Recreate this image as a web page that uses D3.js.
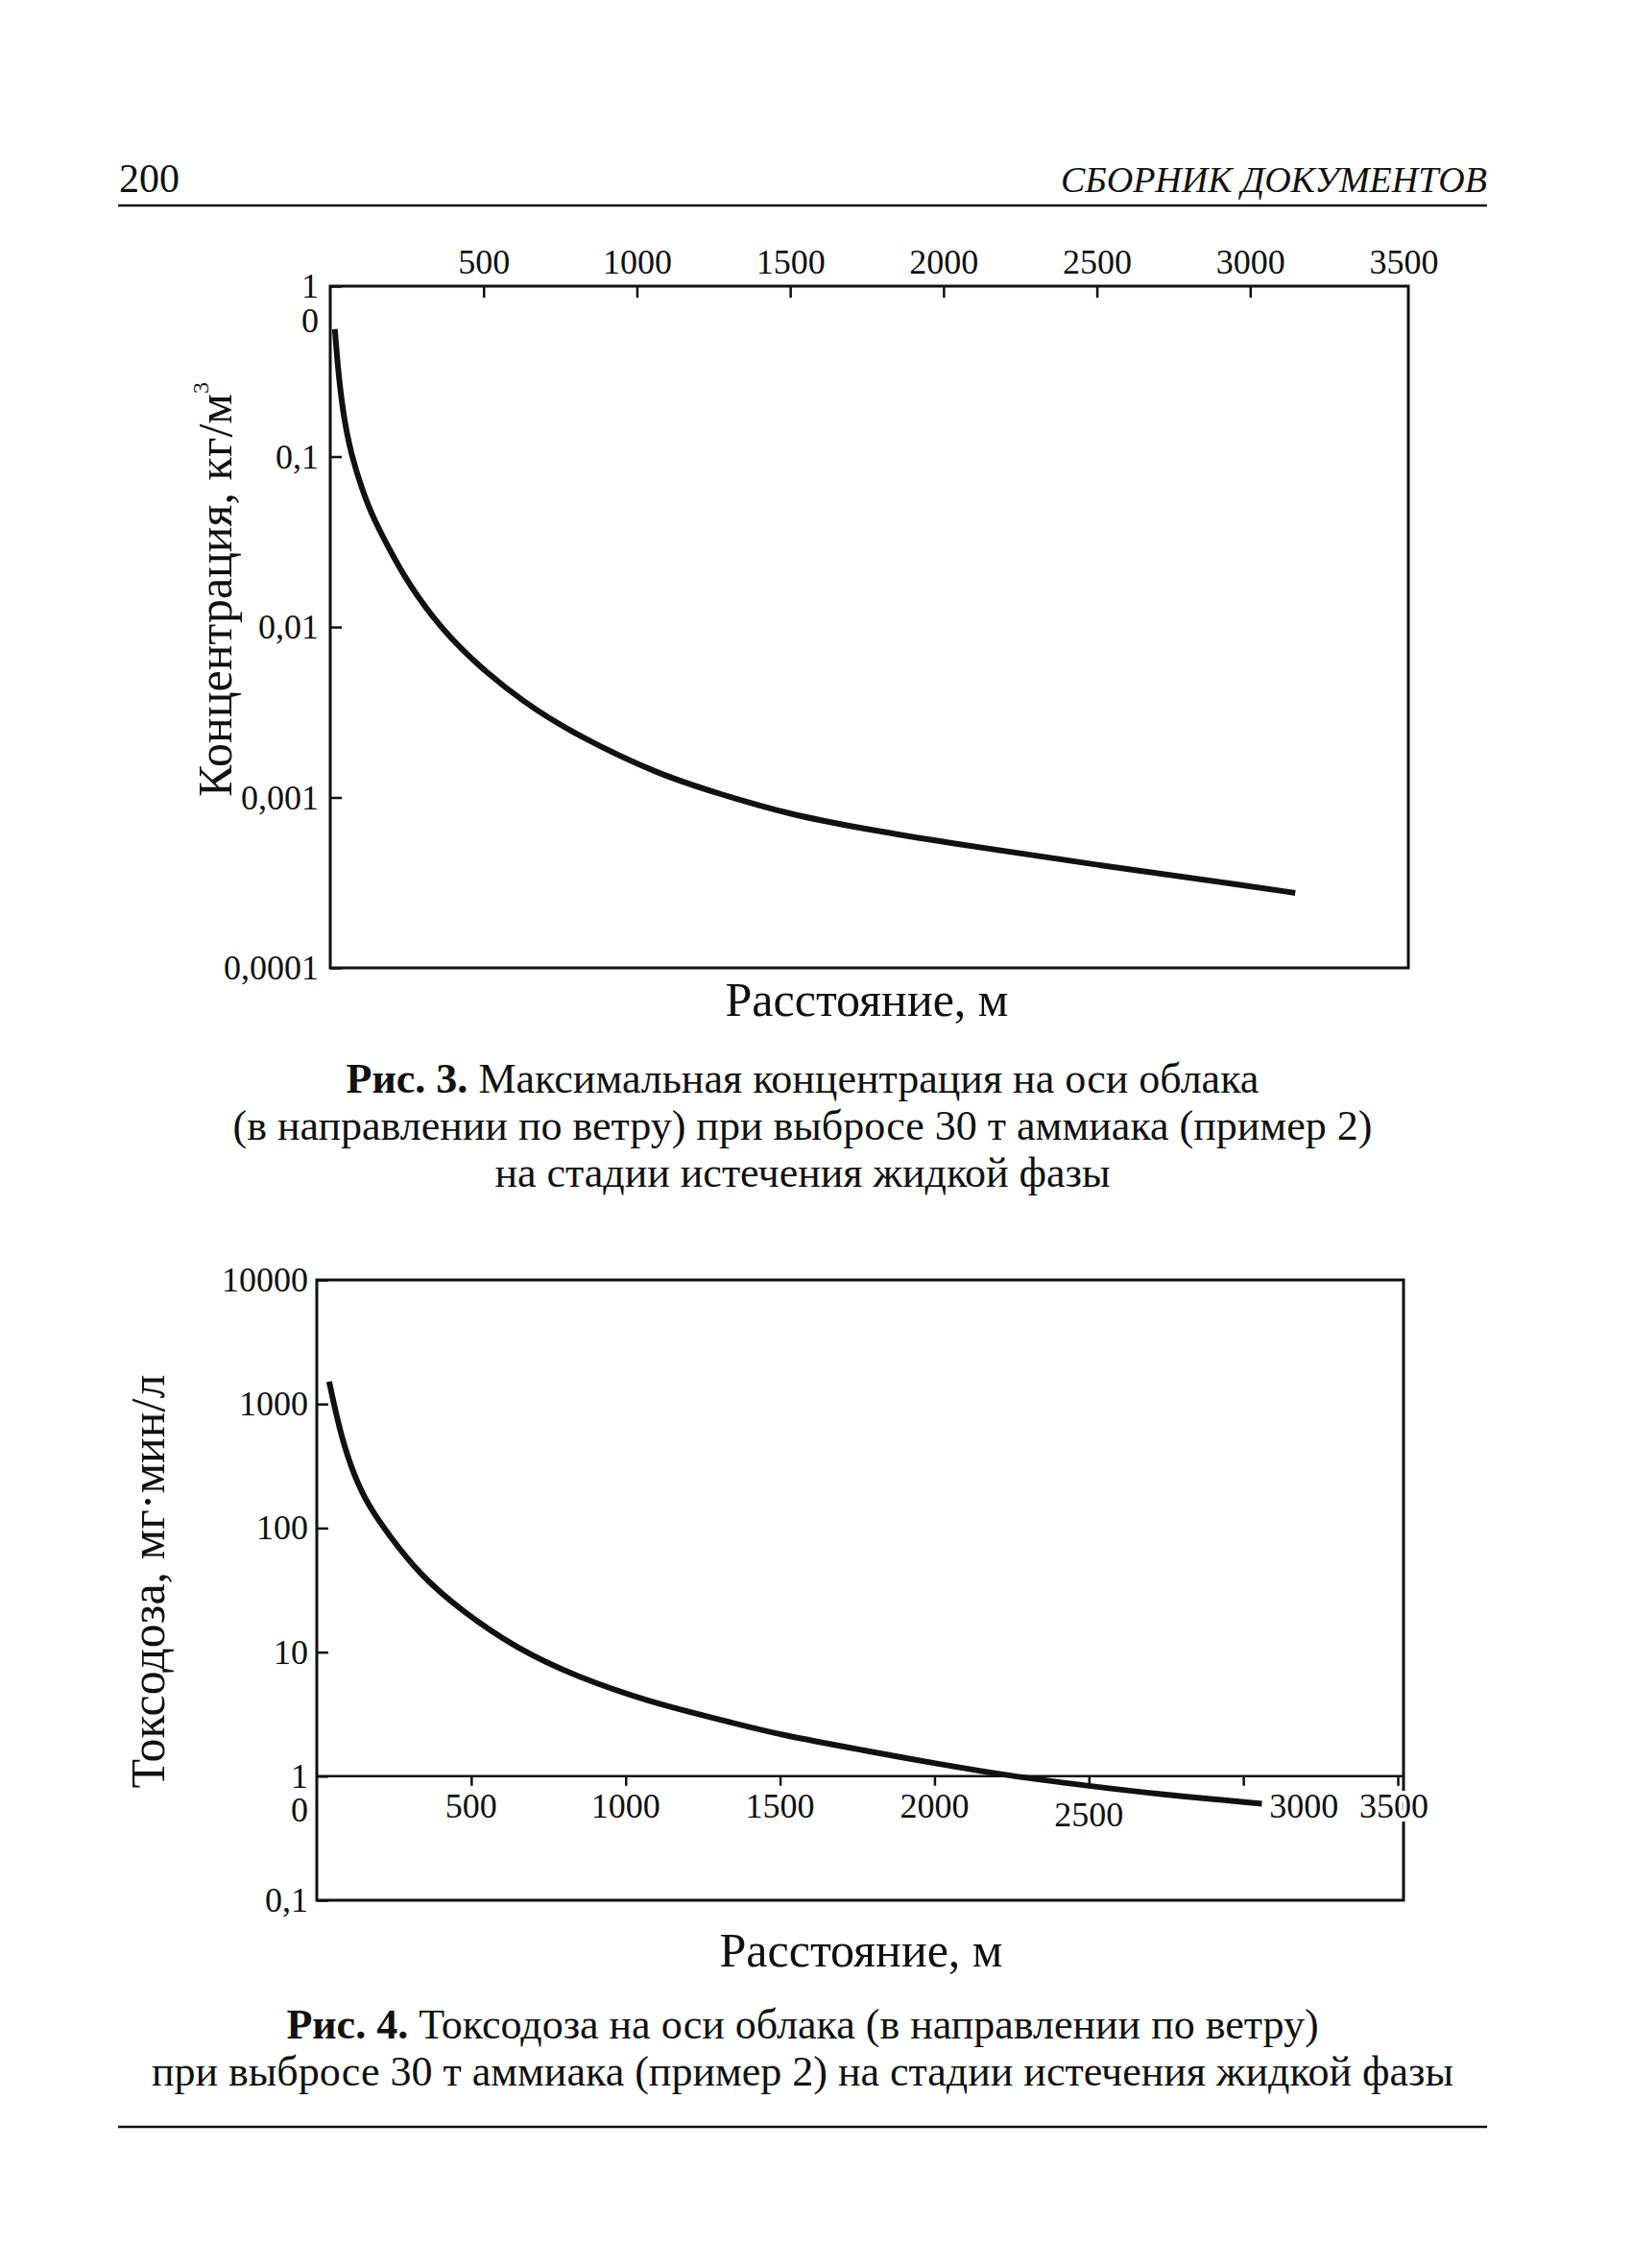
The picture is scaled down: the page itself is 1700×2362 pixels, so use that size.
<!DOCTYPE html>
<html><head><meta charset="utf-8">
<script src="https://cdn.jsdelivr.net/npm/d3@7"></script>
<style>
body{margin:0;background:#fff}
svg{display:block;background:#fff}
text{font-family:"Liberation Serif","Times New Roman",serif;fill:#111}
</style>
</head><body>
<svg id="c" width="1700" height="2362"></svg>
<script>
// ---------- data ----------
const xTicks = [500, 1000, 1500, 2000, 2500, 3000, 3500];

// Fig. 3: concentration, kg/m3 (log axis)
const concTicks = [1, 0.1, 0.01, 0.001, 0.0001];
const concLabels = ["1", "0,1", "0,01", "0,001", "0,0001"];
const dist1 = [15, 25, 40, 65, 124, 171, 235, 333, 456, 630, 806, 1076, 1277, 1490, 1748, 2006, 2507, 3010, 3147];
const conc1 = [0.56, 0.33, 0.19, 0.105, 0.05, 0.034, 0.0205, 0.0113, 0.0065, 0.0036, 0.0023, 0.00135, 0.00104, 0.0008, 0.00065, 0.000545, 0.0004, 0.0003, 0.000275];

// Fig. 4: toxic dose, mg·min/l (log axis)
const doseTicks = [10000, 1000, 100, 10, 1, 0.1];
const doseLabels = ["10000", "1000", "100", "10", "1", "0,1"];
const dist2 = [40, 60, 87, 120, 166, 236, 330, 470, 650, 840, 1078, 1312, 1500, 1780, 1990, 2250, 2490, 2714, 3060];
const dose2 = [1515, 886, 472, 270, 152, 86, 43, 21.3, 10.6, 6.35, 3.96, 2.83, 2.15, 1.6, 1.28, 1.0, 0.84, 0.72, 0.6];

const headerLeft = "200";
const headerRight = "СБОРНИК ДОКУМЕНТОВ";
const xTitle = "Расстояние, м";
const yTitle1 = "Концентрация, кг/м";
const yTitle2 = "Токсодоза, мг·мин/л";
const caption3 = [["Рис. 3.", " Максимальная концентрация на оси облака"],
                  ["", "(в направлении по ветру) при выбросе 30 т аммиака (пример 2)"],
                  ["", "на стадии истечения жидкой фазы"]];
const caption4 = [["Рис. 4.", " Токсодоза на оси облака (в направлении по ветру)"],
                  ["", "при выбросе 30 т аммиака (пример 2) на стадии истечения жидкой фазы"]];

// ---------- drawing ----------
const svg = d3.select("#c");
const FONT = "Liberation Serif, Times New Roman, serif";
const INK = "#111";

// page header
svg.append("text").attr("x", 124).attr("y", 200).attr("font-size", 42).text(headerLeft);
svg.append("text").attr("x", 1549).attr("y", 200).attr("font-size", 38)
  .attr("font-style", "italic").attr("text-anchor", "end").text(headerRight);
svg.append("line").attr("x1", 123).attr("x2", 1549).attr("y1", 214).attr("y2", 214)
  .attr("stroke", INK).attr("stroke-width", 2.5);

function styleAxis(g, size) {
  g.attr("font-family", FONT).attr("font-size", size);
  g.select(".domain").remove();
  g.selectAll(".tick line").attr("stroke", INK).attr("stroke-width", 2.5);
  g.selectAll(".tick text").attr("fill", INK);
}

function caption(lines, cx, y0, dy) {
  lines.forEach((ln, i) => {
    const t = svg.append("text").attr("x", cx).attr("y", y0 + i * dy)
      .attr("text-anchor", "middle").attr("font-size", 44);
    if (ln[0]) t.append("tspan").attr("font-weight", "bold").text(ln[0]);
    t.append("tspan").text(ln[1]);
  });
}

const curve = d3.curveBasis;

// ===== Figure 3 =====
const x1 = d3.scaleLinear().domain([0, 3500]).range([344, 1462]);
const y1 = d3.scaleLog().domain([1e-4, 1]).range([1008, 298]);

svg.append("rect").attr("x", 344).attr("y", 298).attr("width", 1123).attr("height", 710)
  .attr("fill", "none").attr("stroke", INK).attr("stroke-width", 3);

const top1 = svg.append("g").attr("transform", "translate(0,298)")
  .call(d3.axisTop(x1).tickValues(xTicks).tickSizeInner(-12).tickSizeOuter(0)
    .tickPadding(13).tickFormat(d3.format("d")));
styleAxis(top1, 36);
top1.selectAll(".tick").filter(d => d === 3500).select("line").remove();

const left1 = svg.append("g").attr("transform", "translate(344,0)")
  .call(d3.axisLeft(y1).tickValues(concTicks).tickSizeInner(-12).tickSizeOuter(0)
    .tickPadding(12).tickFormat((d, i) => concLabels[i]));
styleAxis(left1, 36);
svg.append("text").attr("x", 332).attr("y", y1(1) + 36).attr("dy", "0.32em")
  .attr("text-anchor", "end").attr("font-size", 36).text("0");

const yt1 = svg.append("text").attr("transform", "translate(241,614) rotate(-90)")
  .attr("text-anchor", "middle").attr("font-size", 50);
yt1.append("tspan").text(yTitle1);
yt1.append("tspan").attr("font-size", 24).attr("dy", -24).text("3");

const line1 = d3.line().x(d => x1(d[0])).y(d => y1(d[1])).curve(curve);
svg.append("path").datum(dist1.map((d, i) => [d, conc1[i]]))
  .attr("d", line1).attr("fill", "none").attr("stroke", INK).attr("stroke-width", 6);

svg.append("text").attr("x", 903).attr("y", 1058).attr("text-anchor", "middle")
  .attr("font-size", 50).text(xTitle);
caption(caption3, 836, 1138, 49);

// ===== Figure 4 =====
const x2 = d3.scaleLinear().domain([0, 3500]).range([330, 1456]);
const y2 = d3.scaleLog().domain([0.1, 10000]).range([1979, 1333]);

svg.append("rect").attr("x", 330).attr("y", 1333).attr("width", 1132).attr("height", 646)
  .attr("fill", "none").attr("stroke", INK).attr("stroke-width", 3);

const left2 = svg.append("g").attr("transform", "translate(330,0)")
  .call(d3.axisLeft(y2).tickValues(doseTicks).tickSizeInner(-12).tickSizeOuter(0)
    .tickPadding(9).tickFormat((d, i) => doseLabels[i]));
styleAxis(left2, 36);
svg.append("text").attr("x", 321).attr("y", y2(1) + 36).attr("dy", "0.32em")
  .attr("text-anchor", "end").attr("font-size", 36).text("0");

// horizontal axis drawn at value 1
svg.append("line").attr("x1", 330).attr("x2", 1462).attr("y1", y2(1)).attr("y2", y2(1))
  .attr("stroke", INK).attr("stroke-width", 2.5);
const mid2 = svg.append("g").attr("transform", `translate(0,${y2(1)})`)
  .call(d3.axisBottom(x2).tickValues(xTicks).tickSizeInner(10).tickSizeOuter(0).tickFormat(""));
styleAxis(mid2, 36);

const line2 = d3.line().x(d => x2(d[0])).y(d => y2(d[1])).curve(curve);
svg.append("path").datum(dist2.map((d, i) => [d, dose2[i]]))
  .attr("d", line2).attr("fill", "none").attr("stroke", INK).attr("stroke-width", 6);

const labShift = {2500: [0, 9], 3000: [63, 0], 3500: [-4, 0]};
svg.append("g").selectAll("text").data(xTicks).join("text")
  .attr("x", d => x2(d) + (labShift[d] ? labShift[d][0] : 0))
  .attr("y", d => y2(1) + 43 + (labShift[d] ? labShift[d][1] : 0))
  .attr("text-anchor", "middle").attr("font-size", 36)
  .attr("stroke", d => d === 3500 ? "#fff" : "none").attr("stroke-width", 8)
  .attr("paint-order", "stroke")
  .text(d => d);

svg.append("text").attr("transform", "translate(171,1647) rotate(-90)")
  .attr("text-anchor", "middle").attr("font-size", 50).text(yTitle2);

svg.append("text").attr("x", 897).attr("y", 2048).attr("text-anchor", "middle")
  .attr("font-size", 50).text(xTitle);
caption(caption4, 836, 2123, 49);

svg.append("line").attr("x1", 123).attr("x2", 1549).attr("y1", 2215).attr("y2", 2215)
  .attr("stroke", INK).attr("stroke-width", 2.5);
</script>
</body></html>
